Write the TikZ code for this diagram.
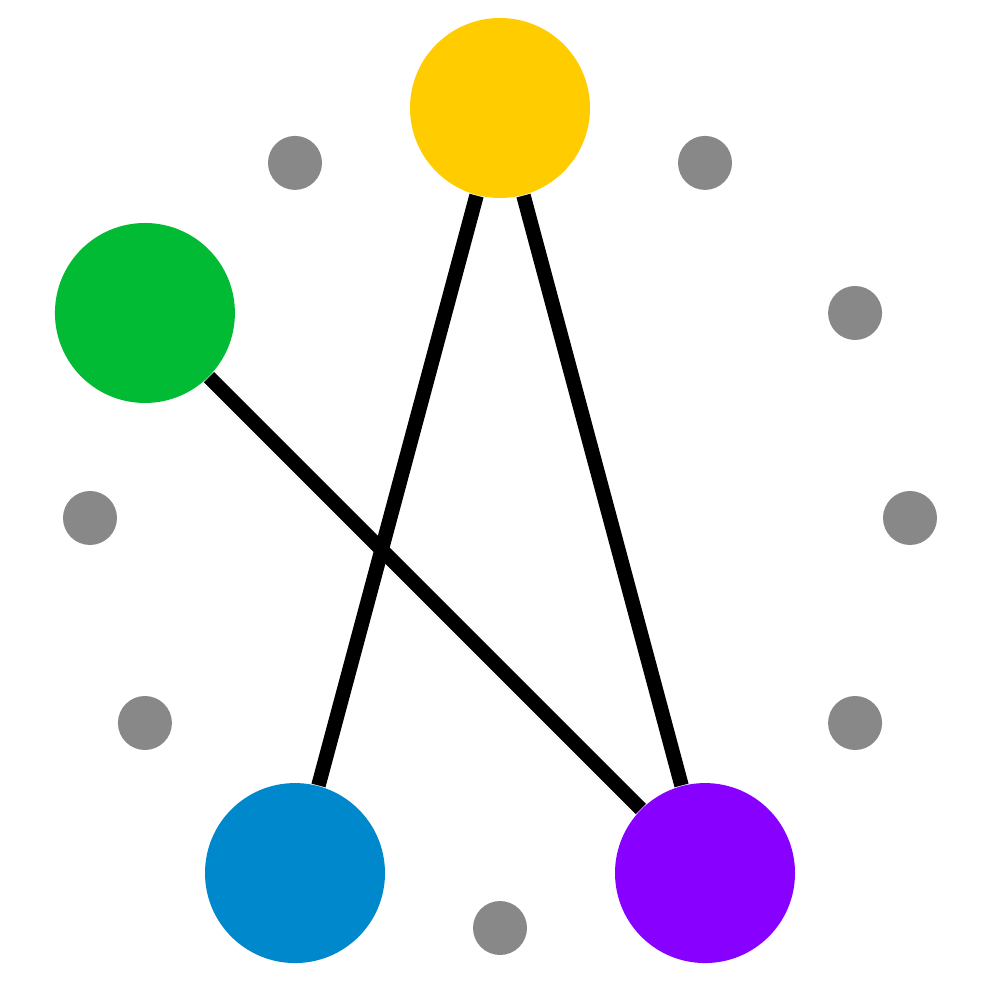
\documentclass[tikz,border=0pt]{standalone}
\begin{document}
\begin{tikzpicture}[
  bignode/.style={circle, inner sep=0pt, minimum size=1.8cm},
  dotnode/.style={circle, inner sep=0pt, minimum size=0.54cm, fill=dotGray},
  edgeline/.style={line width=0.145cm, black}
]

% Colori
\definecolor{colYellow}{HTML}{FFCC00}
\definecolor{colGreen}{HTML}{00BB33}
\definecolor{colBlue}{HTML}{0088CC}
\definecolor{colPurple}{HTML}{8800FF}
\definecolor{dotGray}{HTML}{888888}

% Raggio del cerchio
\def\r{4.1}

% Margini
\useasboundingbox (-5,-4.82) rectangle (5,5.18);

% Posizioni libere
\foreach \a in {0,30,60,120,180,210,270,330}
  \node[dotnode] (dot\a) at (\a:\r) {};

% Vertici
\node[bignode, fill=colYellow] (yellow) at (90:\r) {};
\node[bignode, fill=colGreen] (green) at (150:\r) {};
\node[bignode, fill=colBlue] (blue) at (240:\r) {};
\node[bignode, fill=colPurple] (purple) at (300:\r) {};

% Archi
\draw[edgeline] (yellow) -- (blue);
\draw[edgeline] (yellow) -- (purple);
\draw[edgeline] (green) -- (purple);

\end{tikzpicture}
\end{document}
